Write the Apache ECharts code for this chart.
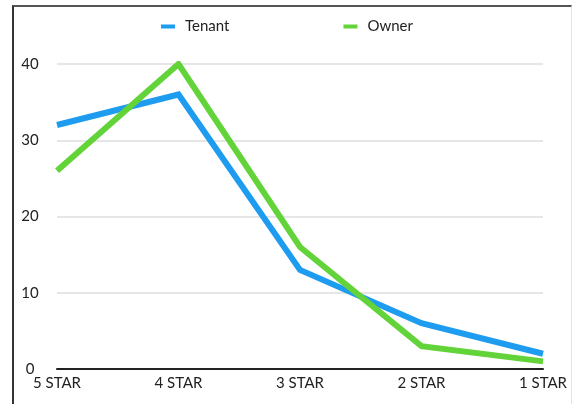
<!DOCTYPE html>
<html>
<head>
<meta charset="utf-8">
<script src="https://cdn.jsdelivr.net/npm/echarts@6/dist/echarts.min.js"></script>
<style>
  html, body { margin: 0; padding: 0; background: #fff; }
  #frame {
    position: absolute; left: 12px; top: 5px; width: 560px; height: 399px;
    border-top: 2px solid #555; border-left: 2px solid #333; border-right: 1px solid #e4e4e4;
    box-sizing: border-box;
  }
  #chart { position: absolute; left: 0; top: 0; width: 574px; height: 404px; }
</style>
</head>
<body>
<div id="frame"></div>
<div id="chart"></div>
<script>
// Ratings, from best to worst
const categories = ['5 STAR', '4 STAR', '3 STAR', '2 STAR', '1 STAR'];
const tenantValues = [32, 36, 13, 6, 2];
const ownerValues = [26, 40, 16, 3, 1];
const yTicks = [0, 10, 20, 30, 40];

const FONT = 'Lato, "Open Sans", sans-serif';

const chart = echarts.init(document.getElementById('chart'), null, { renderer: 'canvas' });
chart.setOption({
  animation: false,
  backgroundColor: 'transparent',
  textStyle: { fontFamily: FONT },
  legend: {
    top: 14,
    left: 'center',
    itemWidth: 14,
    itemHeight: 4,
    itemGap: 114,
    icon: 'rect',
    textStyle: { fontFamily: FONT, fontSize: 15, color: '#222', padding: [0, 0, 0, 5] },
    data: ['Tenant', 'Owner']
  },
  grid: { left: 57, right: 31, top: 64, bottom: 35 },
  xAxis: {
    type: 'category',
    data: categories,
    boundaryGap: false,
    axisLine: { lineStyle: { color: '#222', width: 2 } },
    axisTick: { show: false },
    axisLabel: { fontFamily: FONT, fontSize: 15, color: '#222', margin: 7, interval: 0 }
  },
  yAxis: {
    type: 'value',
    min: yTicks[0],
    max: yTicks[yTicks.length - 1],
    interval: 10,
    axisLine: { show: false },
    axisTick: { show: false },
    axisLabel: { fontFamily: FONT, fontSize: 15, color: '#222', align: 'center', margin: 27 },
    splitLine: { lineStyle: { color: '#dedede', width: 1.5 } }
  },
  series: [
    {
      name: 'Tenant', type: 'line', data: tenantValues,
      symbol: 'none', color: '#1e9cf0',
      lineStyle: { width: 6, color: '#1e9cf0', join: 'miter' }
    },
    {
      name: 'Owner', type: 'line', data: ownerValues,
      symbol: 'none', color: '#62d43a',
      lineStyle: { width: 6, color: '#62d43a', join: 'miter' }
    }
  ]
});
</script>
</body>
</html>
